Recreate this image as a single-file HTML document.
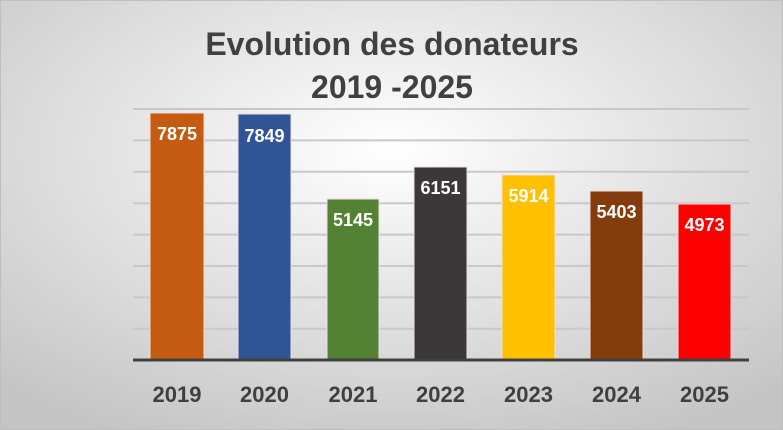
<!DOCTYPE html>
<html><head><style>
body{margin:0}
</style></head><body>
<svg width="783" height="430" xmlns="http://www.w3.org/2000/svg" style="display:block">
<defs>
<radialGradient id="bg" cx="50%" cy="35%" r="75%">
<stop offset="0" stop-color="#ffffff"/>
<stop offset="1" stop-color="#c4c4c4"/>
</radialGradient>
</defs>
<rect x="0" y="0" width="783" height="430" fill="url(#bg)"/>
<rect x="0.5" y="0.5" width="782" height="429" fill="none" stroke="#bfbfbf"/>
<g font-family="Liberation Sans, sans-serif" font-weight="bold" fill="#404040" text-anchor="middle">
<text x="392" y="55" font-size="32">Evolution des donateurs</text>
<text x="392" y="98" font-size="32">2019 -2025</text>
</g>
<g stroke="#c8c8c8" stroke-width="2">
<line x1="133" x2="749" y1="109" y2="109"/>
<line x1="133" x2="749" y1="140.4" y2="140.4"/>
<line x1="133" x2="749" y1="171.8" y2="171.8"/>
<line x1="133" x2="749" y1="203.2" y2="203.2"/>
<line x1="133" x2="749" y1="234.6" y2="234.6"/>
<line x1="133" x2="749" y1="266" y2="266"/>
<line x1="133" x2="749" y1="297.4" y2="297.4"/>
<line x1="133" x2="749" y1="328.8" y2="328.8"/>
</g>
<g stroke="#f2dcdb" stroke-width="1">
<rect x="150" y="113" width="54" height="247" fill="#c55a11"/>
<rect x="238" y="114" width="53" height="246" fill="#2f5597"/>
<rect x="327" y="199" width="52" height="161" fill="#548235"/>
<rect x="414" y="167" width="53" height="193" fill="#3a3838"/>
<rect x="502" y="175" width="53" height="185" fill="#ffc000"/>
<rect x="590" y="191" width="53" height="169" fill="#843c0c"/>
<rect x="678" y="204" width="53" height="156" fill="#ff0000"/>
</g>
<line x1="133" x2="749" y1="360" y2="360" stroke="#404040" stroke-width="3"/>
<g font-family="Liberation Sans, sans-serif" font-weight="bold" fill="#ffffff" text-anchor="middle" font-size="18">
<text x="177" y="140">7875</text>
<text x="264.5" y="142">7849</text>
<text x="353" y="226">5145</text>
<text x="440.5" y="194">6151</text>
<text x="528.5" y="202">5914</text>
<text x="616.5" y="218">5403</text>
<text x="704.5" y="231">4973</text>
</g>
<g font-family="Liberation Sans, sans-serif" font-weight="bold" fill="#404040" text-anchor="middle" font-size="22">
<text x="177" y="402">2019</text>
<text x="264.5" y="402">2020</text>
<text x="353" y="402">2021</text>
<text x="440.5" y="402">2022</text>
<text x="528.5" y="402">2023</text>
<text x="616.5" y="402">2024</text>
<text x="704.5" y="402">2025</text>
</g>
</svg>
</body></html>
